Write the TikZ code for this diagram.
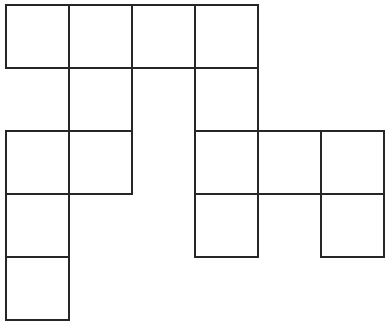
\documentclass[tikz,border=0pt]{standalone}
\begin{document}
\begin{tikzpicture}[x=1pt,y=-1pt,
  cell/.style={draw=black!85,line width=1.6pt,minimum size=63pt,inner sep=0pt,outer sep=0pt,shape=rectangle}]
\useasboundingbox (0,0) rectangle (385,324);
\foreach \c/\r/\n in {0/0/a,1/0/b,2/0/c,3/0/d,1/1/e,3/1/f,0/2/g,1/2/h,3/2/i,4/2/j,5/2/k,0/3/l,3/3/m,5/3/n,0/4/o}{
  \node[cell] (\n) at ({37.5+63*\c},{36.5+63*\r}) {};
}
\end{tikzpicture}
\end{document}
